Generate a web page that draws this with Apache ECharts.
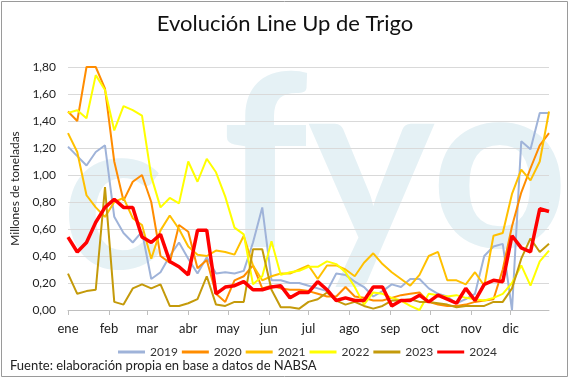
<!DOCTYPE html>
<html><head><meta charset="utf-8">
<script src="https://cdn.jsdelivr.net/npm/echarts@6/dist/echarts.min.js"></script>
<style>html,body{margin:0;padding:0;background:#fff}#c{width:570px;height:379px}</style>
</head><body><div id="c"></div>
<script>
var monthLabels = ['ene','feb','mar','abr','may','jun','jul','ago','sep','oct','nov','dic'];
var monthStartDays = [0,31,60,91,121,152,182,213,244,274,305,335];
var yTicks = [0,0.2,0.4,0.6,0.8,1.0,1.2,1.4,1.6,1.8];
var years = ['2019','2020','2021','2022','2023','2024'];
var w2019 = [1.21,1.14,1.07,1.17,1.22,0.69,0.57,0.50,0.58,0.23,0.28,0.40,0.50,0.38,0.27,0.39,0.27,0.28,0.27,0.29,0.50,0.76,0.22,0.22,0.20,0.20,0.18,0.16,0.14,0.27,0.26,0.21,0.17,0.10,0.14,0.19,0.17,0.23,0.23,0.16,0.12,0.10,0.05,0.08,0.12,0.40,0.47,0.49,0.00,1.25,1.19,1.46,1.46];
var w2020 = [1.47,1.40,1.80,1.80,1.64,1.10,0.81,0.95,1.00,0.80,0.40,0.35,0.63,0.58,0.31,0.37,0.12,0.06,0.22,0.25,0.33,0.16,0.18,0.16,0.15,0.15,0.14,0.12,0.10,0.10,0.17,0.10,0.09,0.07,0.07,0.09,0.11,0.12,0.13,0.06,0.04,0.03,0.03,0.04,0.06,0.07,0.08,0.30,0.62,0.87,1.05,1.22,1.31];
var w2021 = [1.31,1.17,0.85,0.76,0.69,0.80,0.83,0.68,0.63,0.38,0.59,0.70,0.60,0.47,0.41,0.40,0.44,0.43,0.41,0.55,0.33,0.22,0.25,0.27,0.27,0.30,0.33,0.23,0.33,0.33,0.30,0.25,0.35,0.42,0.34,0.28,0.23,0.18,0.26,0.40,0.43,0.22,0.22,0.19,0.28,0.18,0.55,0.57,0.86,1.04,0.96,1.10,1.47];
var w2022 = [1.46,1.48,1.42,1.74,1.63,1.33,1.51,1.48,1.44,0.99,0.76,0.83,0.79,1.10,0.95,1.12,1.02,0.84,0.61,0.56,0.19,0.25,0.51,0.26,0.28,0.29,0.32,0.32,0.36,0.34,0.28,0.17,0.04,0.13,0.12,0.09,0.07,0.03,0.00,0.12,0.11,0.10,0.11,0.09,0.08,0.07,0.09,0.12,0.20,0.33,0.18,0.36,0.44];
var w2023 = [0.27,0.12,0.14,0.15,0.91,0.06,0.04,0.16,0.19,0.16,0.19,0.03,0.03,0.05,0.08,0.25,0.04,0.03,0.06,0.06,0.45,0.45,0.15,0.02,0.02,0.01,0.06,0.08,0.13,0.07,0.04,0.06,0.03,0.01,0.03,0.07,0.07,0.08,0.06,0.06,0.05,0.04,0.02,0.03,0.03,0.03,0.06,0.06,0.16,0.38,0.53,0.43,0.49];
var w2024 = [0.54,0.43,0.50,0.65,0.76,0.82,0.76,0.76,0.54,0.50,0.56,0.36,0.32,0.26,0.59,0.59,0.12,0.17,0.18,0.21,0.15,0.15,0.17,0.18,0.09,0.13,0.13,0.21,0.15,0.07,0.09,0.07,0.07,0.17,0.17,0.03,0.07,0.07,0.11,0.06,0.11,0.08,0.05,0.16,0.07,0.19,0.22,0.21,0.55,0.46,0.43,0.75,0.73];

var seriesValues = [w2019,w2020,w2021,w2022,w2023,w2024];
var colors = ['#9fb3d9','#ff8c00','#ffc000','#ffff00','#c49a0a','#ff0000'];
var widths = [2,2,2,2,2,3.5];
var FONT = 'Lato, "Open Sans", sans-serif';
var monthTicks = monthStartDays.map(function(d){return d/7;});

function toPairs(arr){ return arr.map(function(v,i){return [i,v];}); }

var series = years.map(function(y,k){
  var data = toPairs(seriesValues[k]);
  if (y === '2024') {
    var last = data.length-1;
    data[last] = {value: data[last], label:{show:true, formatter:function(p){return p.value[1].toFixed(2);},
      position:'top', offset:[4,-4], fontFamily:FONT, fontSize:13, fontWeight:'bold', color:'#000'}};
  }
  return {name:y, type:'line', data:data, showSymbol:false, symbol:'none', clip:false,
    lineStyle:{color:colors[k], width:widths[k]}, itemStyle:{color:colors[k]}, z: 2+k, animation:false};
});

var chart = echarts.init(document.getElementById('c'), null, {renderer:'canvas'});
chart.setOption({
  animation:false,
  backgroundColor:'#fff',
  title:{text:'Evolución Line Up de Trigo', left:'center', top:8,
    textStyle:{fontFamily:FONT, fontSize:22, fontWeight:'normal', color:'#111'}},
  grid:{left:68, right:21, top:67, bottom:69, containLabel:false},
  legend:{data:years, bottom:16, left:113, icon:'rect', itemWidth:27, itemHeight:3, itemGap:4,
    textStyle:{fontFamily:FONT, fontSize:12, color:'#333'}},
  graphic:[
    {type:'rect', shape:{x:1.5,y:1.5,width:566,height:375}, style:{fill:'none', stroke:'#9a9a9a', lineWidth:1}, z:100},
    {type:'text', left:10, top:359, style:{text:'Fuente: elaboración propia en base a datos de NABSA', fontFamily:FONT, fontSize:13, fill:'#222'}},
    {type:'text', x:62, y:95, z:-1, style:{text:'c', fontFamily:FONT, fontSize:210, fontWeight:'bold', fill:'#e5f1f5'}},
    {type:'text', x:222, y:50, z:-1, style:{text:'fyo', fontFamily:FONT, fontSize:240, fontWeight:'bold', fill:'#e5f1f5'}}
  ],
  xAxis:{type:'value', min:0, max:52,
    axisLine:{show:true, lineStyle:{color:'#bfbfbf'}},
    axisTick:{show:true, length:5, lineStyle:{color:'#bfbfbf'}, customValues:monthTicks},
    axisLabel:{customValues:monthTicks, margin:12, fontFamily:FONT, fontSize:13, color:'#222',
      formatter:function(v){ var best=0; for (var i=0;i<monthTicks.length;i++){ if (Math.abs(monthTicks[i]-v)<Math.abs(monthTicks[best]-v)) best=i; } return monthLabels[best]; }},
    splitLine:{show:false}},
  yAxis:{type:'value', min:0, max:1.8, interval:0.2,
    name:'Millones de toneladas', nameLocation:'middle', nameGap:47, nameRotate:90,
    nameTextStyle:{fontFamily:FONT, fontSize:12, color:'#222'},
    axisLine:{show:false}, axisTick:{show:false},
    axisLabel:{margin:12, fontFamily:FONT, fontSize:12, color:'#222', formatter:function(v){return v.toFixed(2).replace('.',',');}},
    splitLine:{lineStyle:{color:'#d9d9d9', width:1}}},
  series:series
});
</script></body></html>
